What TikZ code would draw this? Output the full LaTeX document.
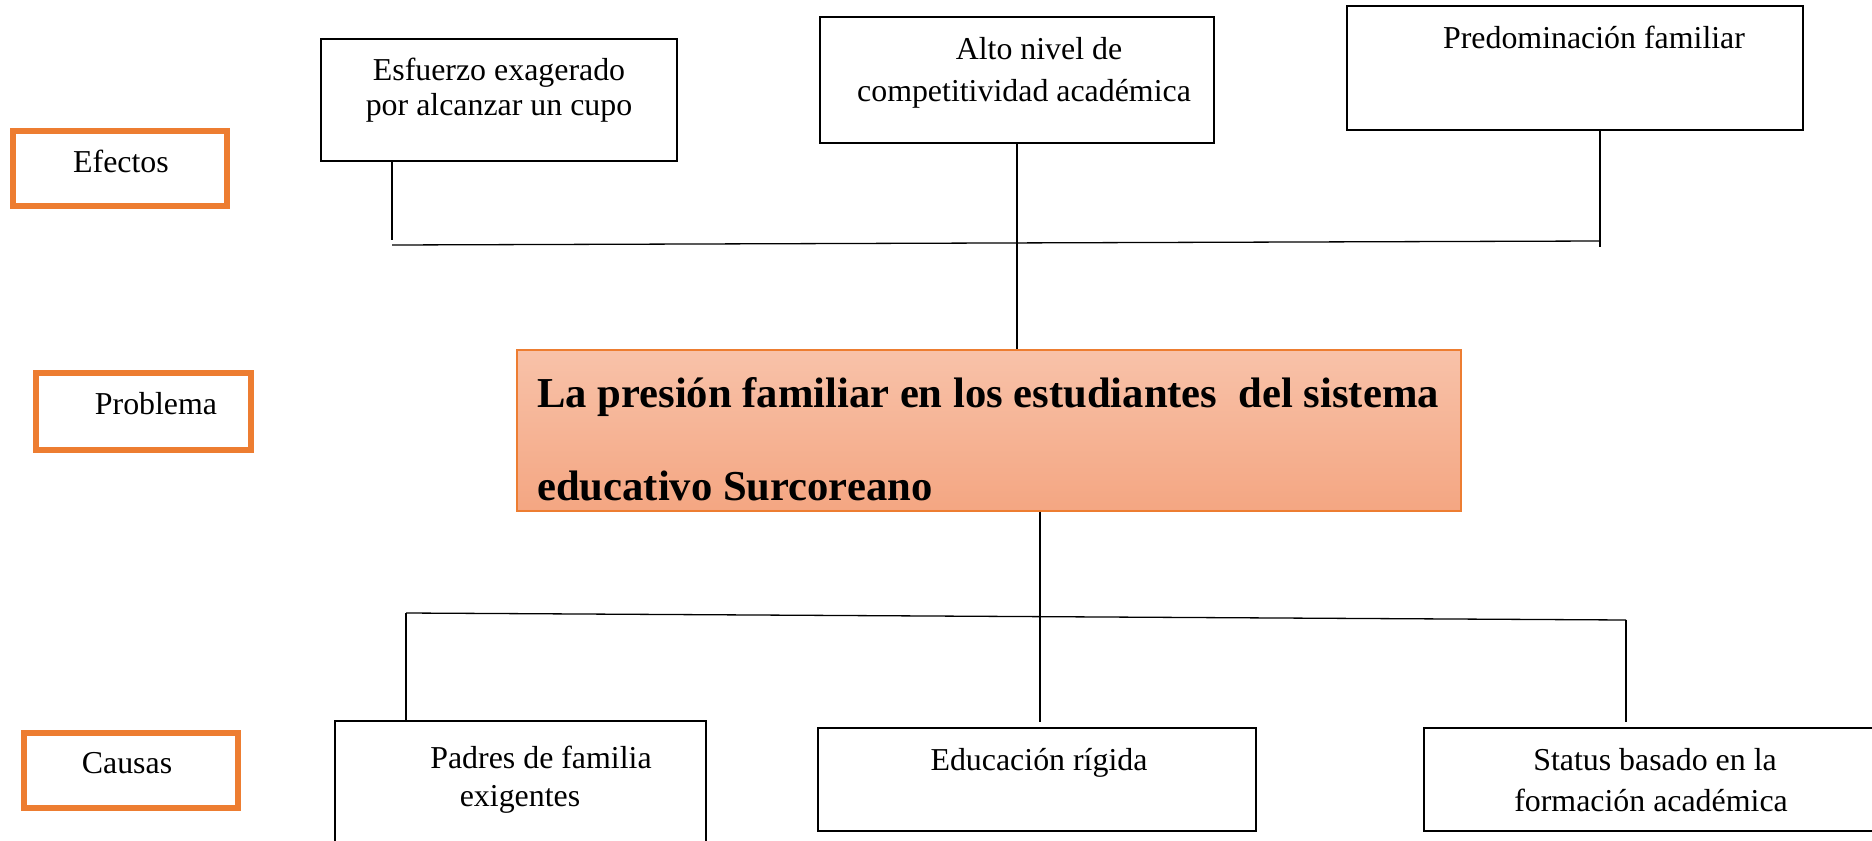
\documentclass[tikz,border=0pt]{standalone}
\usepackage{fontspec}
\setmainfont{Liberation Serif}
\definecolor{orangeC}{HTML}{ED7D31}
\definecolor{peachTop}{HTML}{F8C2A9}
\definecolor{peachBot}{HTML}{F4A682}
\begin{document}
\begin{tikzpicture}[x=1bp,y=-1bp,
  lbl/.style={draw=orangeC, line width=6bp, minimum width=214bp, minimum height=75bp, inner sep=0pt},
  box/.style={draw=black, line width=1.3bp, inner sep=0pt},
  txt/.style={font=\fontsize{32}{36}\selectfont, inner sep=0pt, anchor=base},
  ttl/.style={font=\fontsize{42.8}{93}\bfseries\selectfont, inner sep=0pt, anchor=base west},
  conn/.style={line width=1.3bp}]
\useasboundingbox (0,0) rectangle (1872,841);
% label boxes
\node[lbl] (efectos) at (120,168.5) {};
\node[lbl, minimum width=215bp, minimum height=77bp] (problema) at (143.5,411.5) {};
\node[lbl] (causas) at (131,770.5) {};
\node[txt] (tEf) at (121,172) {Efectos};
\node[txt] (tPr) at (156,414) {Problema};
\node[txt] (tCa) at (127,773) {Causas};
% effect boxes
\node[box, minimum width=356bp, minimum height=122bp] (esf) at (499,100) {};
\node[box, minimum width=394bp, minimum height=126bp] (alto) at (1017,80) {};
\node[box, minimum width=456bp, minimum height=124bp] (pred) at (1575,68) {};
\node[txt] (tEs1) at (499,80) {Esfuerzo exagerado};
\node[txt] (tEs2) at (499,115) {por alcanzar un cupo};
\node[txt] (tAl1) at (1039,59) {Alto nivel de};
\node[txt] (tAl2) at (1024,101) {competitividad académica};
\node[txt] (tPd) at (1594,48) {Predominación familiar};
% central problem
\node[draw=orangeC, line width=1.3bp, top color=peachTop, bottom color=peachBot,
      minimum width=944bp, minimum height=161bp, inner sep=0pt] (central) at (989,430.5) {};
\node[ttl] (tT1) at (537,407) {La presión familiar en los estudiantes\ \ del sistema};
\node[ttl] (tT2) at (537,500) {educativo Surcoreano};
% cause boxes
\node[box, minimum width=371bp, minimum height=139bp] (padres) at (520.5,790.5) {};
\node[box, minimum width=438bp, minimum height=103bp] (educ) at (1037,779.5) {};
\node[box, minimum width=466bp, minimum height=103bp] (status) at (1657,779.5) {};
\node[txt] (tPa1) at (541,768) {Padres de familia};
\node[txt] (tPa2) at (520,806) {exigentes};
\node[txt] (tEd) at (1039,770) {Educación rígida};
\node[txt] (tSt1) at (1655,770) {Status basado en la};
\node[txt] (tSt2) at (1651,811) {formación académica};
% upper connectors
\coordinate (uL) at (392,245);
\coordinate (uLt) at (392,240);
\coordinate (uR) at (1600,241);
\coordinate (pE) at (1600,247);
\draw[conn] (esf.south -| uLt) -- (uLt);
\draw[conn] (uL) -- (uR);
\draw[conn] (pred.south -| pE) -- (pE);
\draw[conn] (alto.south) -- (alto.south |- central.north);
% lower connectors
\coordinate (cB) at (1040,722);
\coordinate (lL) at (406,613);
\coordinate (lR) at (1626,620);
\coordinate (lRe) at (1626,722);
\draw[conn] (central.south -| cB) -- (cB);
\draw[conn] (lL) -- (lR);
\draw[conn] (lL) -- (lL |- padres.north);
\draw[conn] (lR) -- (lRe);
\end{tikzpicture}
\end{document}
